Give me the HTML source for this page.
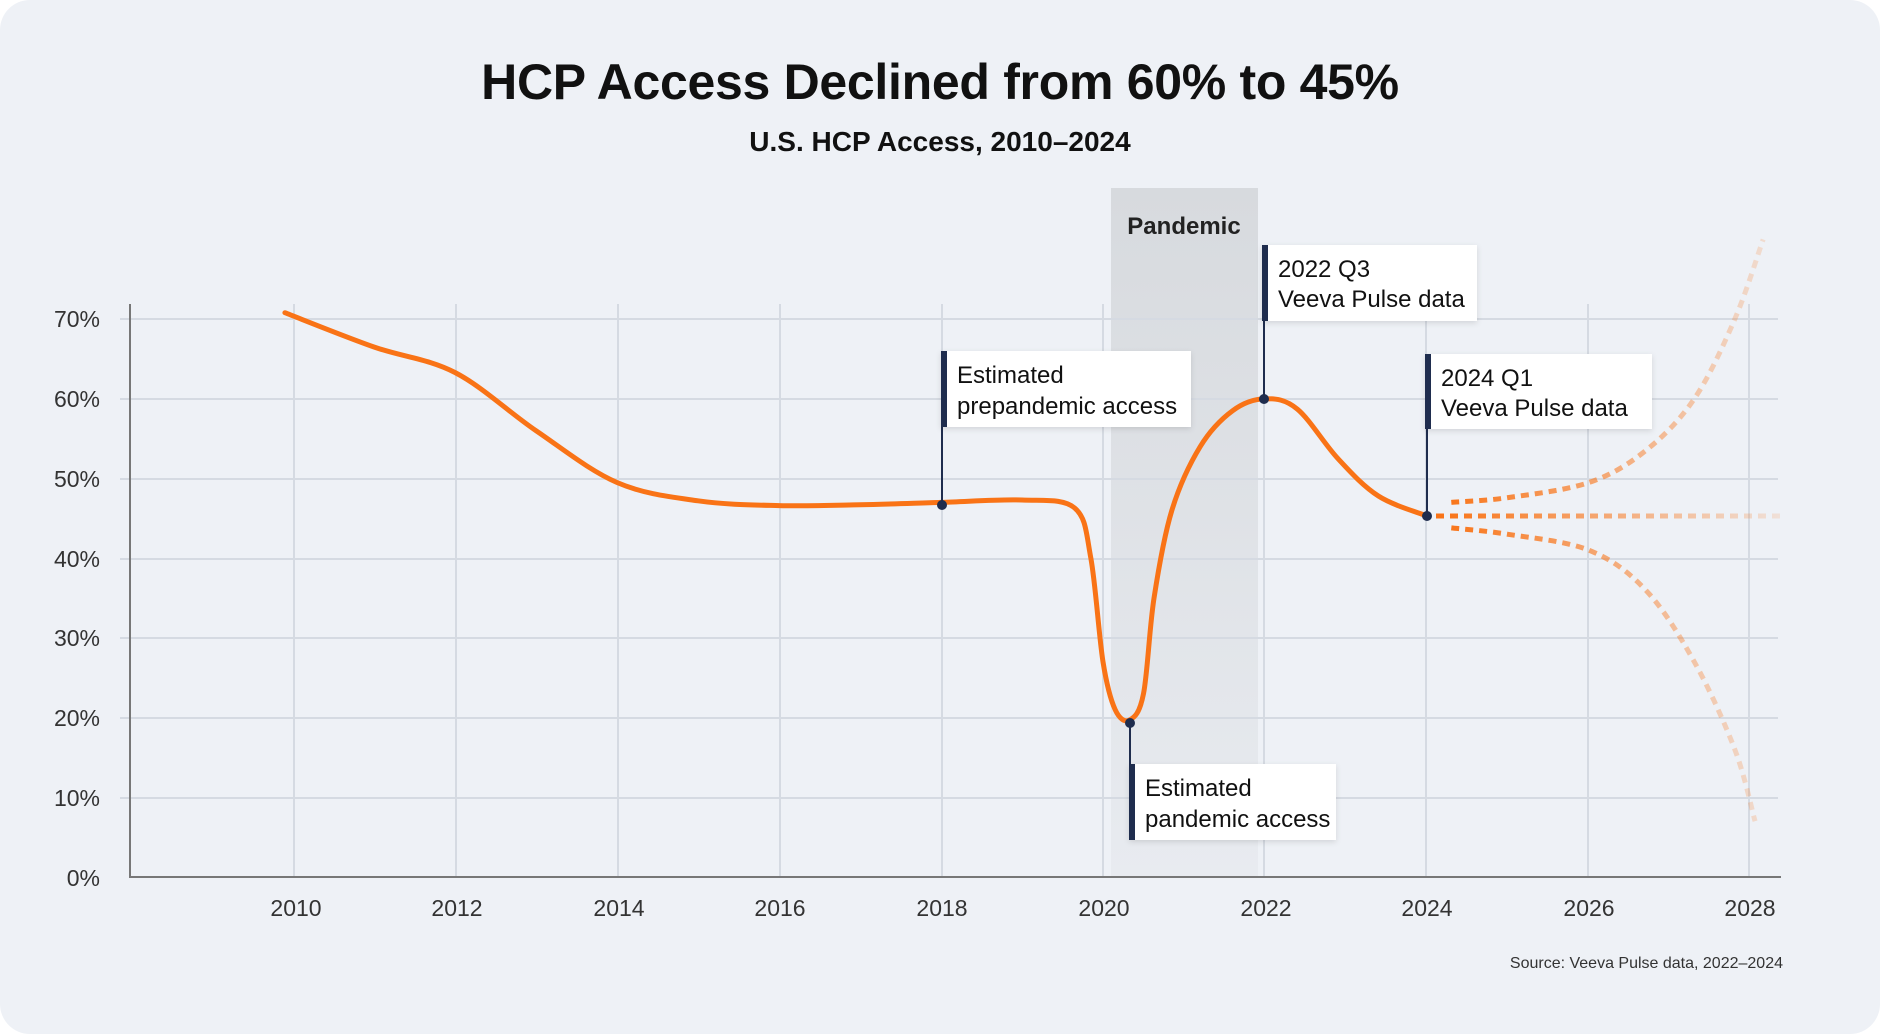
<!DOCTYPE html>
<html><head><meta charset="utf-8"><style>
html,body{margin:0;padding:0;background:#fff;}
.card{position:absolute;left:0;top:0;width:1880px;height:1034px;background:#eef1f6;border-radius:30px;overflow:hidden;font-family:"Liberation Sans Narrow","Liberation Sans",sans-serif;}
svg{position:absolute;left:0;top:0}
.t{font-family:"Liberation Sans",sans-serif;font-weight:bold;font-size:50px;fill:#111;letter-spacing:-0.3px}
.lbl{font-size:23px;fill:#333}
.box{font-size:24px;fill:#111}
</style></head><body><div class="card">
<svg width="1880" height="1034" viewBox="0 0 1880 1034">
<defs>
<linearGradient id="band" x1="0" y1="0" x2="0" y2="1"><stop offset="0" stop-color="#d7dade"/><stop offset="1" stop-color="#e8ebf0"/></linearGradient>
<linearGradient id="fade" gradientUnits="userSpaceOnUse" x1="1440" y1="0" x2="1785" y2="0"><stop offset="0" stop-color="#f97316" stop-opacity="1"/><stop offset="1" stop-color="#f97316" stop-opacity="0.12"/></linearGradient>
<filter id="sh" x="-10%" y="-10%" width="120%" height="130%"><feDropShadow dx="0" dy="2" stdDeviation="3" flood-color="#000" flood-opacity="0.12"/></filter>
</defs>
<text x="940" y="99" text-anchor="middle" class="t">HCP Access Declined from 60% to 45%</text>
<text x="940" y="151" text-anchor="middle" style="font-family:'Liberation Sans Narrow','Liberation Sans',sans-serif;font-weight:bold;font-size:28px;fill:#111">U.S. HCP Access, 2010–2024</text>
<rect x="1111" y="188" width="147" height="689" fill="url(#band)"/>
<text x="1184" y="234" text-anchor="middle" style="font-weight:bold;font-size:24px;fill:#222">Pandemic</text>
<g stroke="#d5dae2" stroke-width="2">
<line x1="120" x2="1778" y1="319" y2="319"/><line x1="120" x2="1778" y1="399" y2="399"/><line x1="120" x2="1778" y1="479" y2="479"/><line x1="120" x2="1778" y1="559" y2="559"/><line x1="120" x2="1778" y1="638" y2="638"/><line x1="120" x2="1778" y1="718" y2="718"/><line x1="120" x2="1778" y1="798" y2="798"/>
<line x1="294" x2="294" y1="304" y2="877"/><line x1="456" x2="456" y1="304" y2="877"/><line x1="618" x2="618" y1="304" y2="877"/><line x1="780" x2="780" y1="304" y2="877"/><line x1="942" x2="942" y1="304" y2="877"/><line x1="1103" x2="1103" y1="304" y2="877"/><line x1="1264" x2="1264" y1="304" y2="877"/><line x1="1426" x2="1426" y1="304" y2="877"/><line x1="1588" x2="1588" y1="304" y2="877"/><line x1="1749" x2="1749" y1="304" y2="877"/>
</g>
<line x1="130" y1="304" x2="130" y2="878" stroke="#777" stroke-width="2"/>
<line x1="129" y1="877" x2="1781" y2="877" stroke="#777" stroke-width="2"/>
<g class="lbl" text-anchor="end">
<text x="100" y="327">70%</text><text x="100" y="407">60%</text><text x="100" y="487">50%</text><text x="100" y="567">40%</text><text x="100" y="646">30%</text><text x="100" y="726">20%</text><text x="100" y="806">10%</text><text x="100" y="886">0%</text>
</g>
<g class="lbl" text-anchor="middle">
<text x="296" y="916">2010</text><text x="457" y="916">2012</text><text x="619" y="916">2014</text><text x="780" y="916">2016</text><text x="942" y="916">2018</text><text x="1104" y="916">2020</text><text x="1266" y="916">2022</text><text x="1427" y="916">2024</text><text x="1589" y="916">2026</text><text x="1750" y="916">2028</text>
</g>
<text x="1783" y="968" text-anchor="end" style="font-size:16px;fill:#333">Source: Veeva Pulse data, 2022–2024</text>
<path id="main" fill="none" stroke="#f97316" stroke-width="5" stroke-linecap="round"/>
<g fill="none" stroke="url(#fade)" stroke-width="5" stroke-dasharray="8 6">
<path id="up"/><path id="lo"/><line x1="1436" y1="516" x2="1782" y2="516"/>
</g>
<g stroke="#1f2d4e" stroke-width="2">
<line x1="942" y1="420" x2="942" y2="505"/><line x1="1264" y1="318" x2="1264" y2="399"/><line x1="1427" y1="428" x2="1427" y2="516"/><line x1="1130" y1="722" x2="1130" y2="765"/>
</g>
<g fill="#1f2d4e"><circle cx="942" cy="505" r="5"/><circle cx="1264" cy="399" r="5"/><circle cx="1427" cy="516" r="5"/><circle cx="1130" cy="723" r="5"/></g>
<g filter="url(#sh)" fill="#fff">
<rect x="941" y="351" width="250" height="76"/><rect x="1262" y="245" width="215" height="76"/><rect x="1425" y="354" width="227" height="75"/><rect x="1129" y="764" width="207" height="76"/>
</g>
<g fill="#1f2d4e"><rect x="941" y="351" width="6" height="76"/><rect x="1262" y="245" width="6" height="76"/><rect x="1425" y="354" width="6" height="75"/><rect x="1129" y="764" width="6" height="76"/></g>
<g class="box">
<text x="957" y="383">Estimated</text><text x="957" y="414">prepandemic access</text>
<text x="1278" y="277">2022 Q3</text><text x="1278" y="307">Veeva Pulse data</text>
<text x="1441" y="386">2024 Q1</text><text x="1441" y="416">Veeva Pulse data</text>
<text x="1145" y="796">Estimated</text><text x="1145" y="827">pandemic access</text>
</g>
</svg>
<script>
function X(y){return 293+81*(y-2010)}function Y(v){return 877-7.97*v}
function cr(pts){var p=pts.map(function(a){return [X(a[0]),Y(a[1])]});var d="M"+p[0][0]+","+p[0][1];
for(var i=0;i<p.length-1;i++){var p0=p[i-1]||p[i],p1=p[i],p2=p[i+1],p3=p[i+2]||p2;
d+=" C"+(p1[0]+(p2[0]-p0[0])/6)+","+(p1[1]+(p2[1]-p0[1])/6)+" "+(p2[0]-(p3[0]-p1[0])/6)+","+(p2[1]-(p3[1]-p1[1])/6)+" "+p2[0]+","+p2[1];}return d;}
document.getElementById("main").setAttribute("d",cr([[2009.9,70.8],[2011,66.5],[2012,63.3],[2013,56],[2014,49.5],[2015,47.2],[2016,46.6],[2017,46.7],[2018,47],[2019,47.3],[2019.65,46.3],[2019.85,40],[2020,27],[2020.15,21],[2020.33,19.7],[2020.5,23],[2020.63,35],[2020.85,46],[2021.2,54],[2021.6,58.5],[2022,60],[2022.4,58.7],[2022.9,52.5],[2023.4,47.8],[2024,45.3]]));
document.getElementById("up").setAttribute("d",cr([[2024.3,47],[2025,47.6],[2026,49.5],[2026.7,53.5],[2027.3,60],[2027.8,70],[2028.15,80]]));
document.getElementById("lo").setAttribute("d",cr([[2024.3,43.8],[2025,43],[2026,41],[2026.7,36],[2027.3,27],[2027.8,16],[2028.05,7]]));
</script>
</div></body></html>
